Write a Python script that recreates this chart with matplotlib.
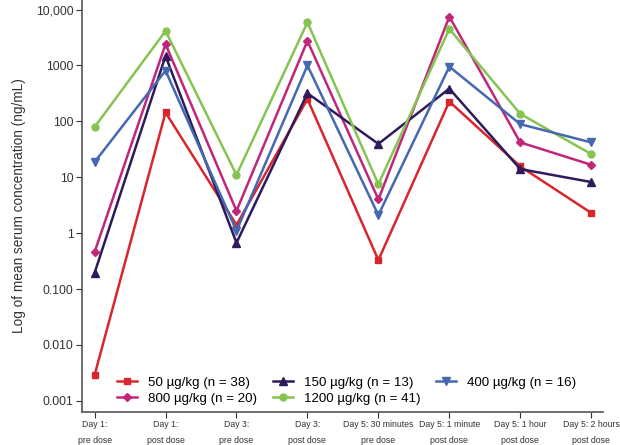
import matplotlib
matplotlib.use("Agg")
import matplotlib.pyplot as plt
from matplotlib.ticker import FixedLocator, FixedFormatter, NullLocator

plt.rcParams["font.family"] = ["Liberation Sans", "DejaVu Sans"]

# Time points on the x axis
timepoints = ["Day 1:\npre dose", "Day 1:\npost dose", "Day 3:\npre dose",
              "Day 3:\npost dose", "Day 5: 30 minutes\npre dose",
              "Day 5: 1 minute\npost dose", "Day 5: 1 hour\npost dose",
              "Day 5: 2 hours\npost dose"]

# Mean serum concentration (ng/mL) per dose group
dose_50 = [0.0029, 144, 1.4, 250, 0.33, 226, 15.6, 2.3]
dose_800 = [0.46, 2400, 2.5, 2750, 4.0, 7450, 42, 16.7]
dose_150 = [0.195, 1480, 0.67, 318, 39.5, 385, 14, 8.2]
dose_1200 = [79, 4130, 11, 5900, 7.5, 4500, 136, 26]
dose_400 = [18.7, 807, 1.1, 1000, 2.1, 950, 89, 42]

y_ticks = [0.001, 0.01, 0.1, 1, 10, 100, 1000, 10000]
y_tick_labels = ["0.001", "0.010", "0.100", "1", "10", "100", "1000", "10,000"]

fig = plt.figure(figsize=(6.2, 4.45), dpi=100)
ax = fig.add_axes([0.132, 0.074, 0.841, 0.926])

x = range(len(timepoints))
series = [
    (dose_50, "50 µg/kg (n = 38)", "#d9262c", "s", 5),
    (dose_800, "800 µg/kg (n = 20)", "#c0267a", "D", 4),
    (dose_150, "150 µg/kg (n = 13)", "#2f1b5c", "^", 5.5),
    (dose_1200, "1200 µg/kg (n = 41)", "#86c451", "o", 5),
    (dose_400, "400 µg/kg (n = 16)", "#4468b2", "v", 5.5),
]
for vals, label, color, marker, ms in series:
    ax.plot(x, vals, color=color, marker=marker, markersize=ms, lw=1.8, label=label)

ax.set_yscale("log")
ax.set_ylim(10 ** -3.2, 10 ** 4.17)
ax.set_xlim(-0.18, 7.17)
ax.yaxis.set_major_locator(FixedLocator(y_ticks))
ax.yaxis.set_major_formatter(FixedFormatter(y_tick_labels))
ax.yaxis.set_minor_locator(NullLocator())
ax.set_xticks(list(x))
ax.set_xticklabels(timepoints, fontsize=6.3, color="#333333", linespacing=1.9)
ax.tick_params(axis="y", labelsize=8.8, colors="#333333", length=4, pad=2)
ax.tick_params(axis="x", length=4, colors="#333333", pad=2)
ax.set_ylabel("Log of mean serum concentration (ng/mL)", fontsize=9.8, color="#333333",
              labelpad=7)

for s in ["top", "right"]:
    ax.spines[s].set_visible(False)
for s in ["left", "bottom"]:
    ax.spines[s].set_color("#555555")
    ax.spines[s].set_linewidth(1.2)

ax.legend(ncol=3, loc="lower left", bbox_to_anchor=(0.045, -0.012), frameon=False,
          fontsize=9.6, handlelength=1.5, labelspacing=0.3, columnspacing=1.2,
          handletextpad=0.8)

fig.savefig("out.png", dpi=100)
